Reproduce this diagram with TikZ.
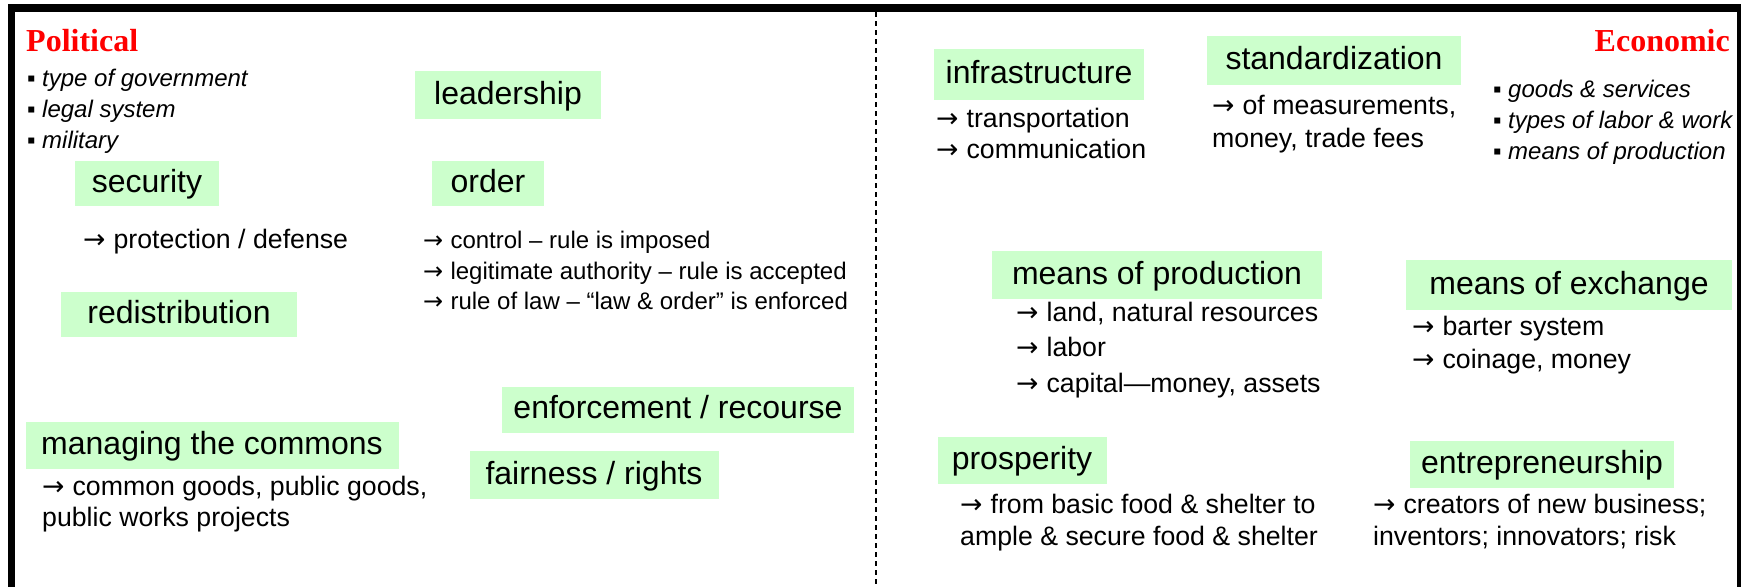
\documentclass[tikz,border=0pt]{standalone}
\usepackage{fontspec}
\setmainfont{Liberation Sans}
\newfontfamily\serifface{Liberation Serif}
\newfontfamily\arrowface{DejaVu Sans}
\definecolor{boxgreen}{HTML}{CCFFCC}
\definecolor{headred}{HTML}{FF0000}
\newcommand\rarr{{\arrowface →}\hspace{0.3em}}
\begin{document}
\begin{tikzpicture}[x=1pt,y=-1pt,
  box/.style={fill=boxgreen, inner sep=0pt, text height=24pt, text depth=6pt,
    font=\fontsize{32}{38}\selectfont},
  head/.style={inner sep=0pt, text=headred, font=\serifface\bfseries\fontsize{32}{38}\selectfont},
  sub/.style={anchor=base west, inner sep=0pt, font=\fontsize{26.7}{32}\selectfont},
  subs/.style={anchor=base west, inner sep=0pt, font=\fontsize{24}{30}\selectfont},
  bul/.style={anchor=base west, inner sep=0pt, font=\fontsize{24}{30}\selectfont},
  bult/.style={anchor=base west, inner sep=0pt, font=\itshape\fontsize{24}{30}\selectfont}]
\useasboundingbox (0,0) rectangle (1744,587);
\fill[white] (0,0) rectangle (1744,587);
% frame
\fill[black] (8,4) rectangle (1741,12);
\fill[black] (8,4) rectangle (15,587);
\fill[black] (1737,4) rectangle (1741,587);
\draw[line width=2pt, dash pattern=on 5pt off 4pt] (876,12) -- (876,587);

% headings
\node[head, anchor=base west] (pol) at (26,51) {Political};
\node[head, anchor=base east] (eco) at (1730,51) {Economic};

% political bullets
\node[bul] (pb1) at (27,86) {▪};
\node[bult] (pt1) at (42,86) {type of government};
\node[bul] (pb2) at (27,117) {▪};
\node[bult] (pt2) at (42,117) {legal system};
\node[bul] (pb3) at (27,148) {▪};
\node[bult] (pt3) at (42,148) {military};

% economic bullets
\node[bul] (eb1) at (1493,97) {▪};
\node[bult] (et1) at (1508,97) {goods \& services};
\node[bul] (eb2) at (1493,128) {▪};
\node[bult] (et2) at (1508,128) {types of labor \& work};
\node[bul] (eb3) at (1493,159) {▪};
\node[bult] (et3) at (1508,159) {means of production};

% political boxes
\node[box, minimum width=186pt, minimum height=48pt] (lead) at (508,95) {leadership};
\node[box, minimum width=144pt, minimum height=45pt] (sec) at (147,183.5) {security};
\node[box, minimum width=112pt, minimum height=45pt] (ord) at (488,183.5) {order};
\node[box, minimum width=236pt, minimum height=45pt] (redis) at (179,314.5) {redistribution};
\node[box, minimum width=352pt, minimum height=46pt] (enf) at (678,409.5) {enforcement / recourse};
\node[box, minimum width=373pt, minimum height=47pt] (man) at (212,445) {managing the commons};
\node[box, minimum width=249pt, minimum height=48pt] (fair) at (594,475) {fairness / rights};

% political sub items
\node[sub] (sec1) at (83,248) {\rarr protection / defense};
\node[subs] (ord1) at (423,248) {\rarr control – rule is imposed};
\node[subs] (ord2) at (423,279) {\rarr legitimate authority – rule is accepted};
\node[subs] (ord3) at (423,309) {\rarr rule of law – “law \& order” is enforced};
\node[sub] (man1) at (42,495) {\rarr common goods, public goods,};
\node[sub] (man2) at (42,526) {public works projects};

% economic boxes
\node[box, minimum width=210pt, minimum height=51pt] (infra) at (1039,74.5) {infrastructure};
\node[box, minimum width=254pt, minimum height=49pt] (std) at (1334,60.5) {standardization};
\node[box, minimum width=330pt, minimum height=48pt] (mprod) at (1157,275) {means of production};
\node[box, minimum width=326pt, minimum height=50pt] (mexch) at (1569,285) {means of exchange};
\node[box, minimum width=169pt, minimum height=47pt] (prosp) at (1022,460.5) {prosperity};
\node[box, minimum width=264pt, minimum height=47pt] (entre) at (1542,464.5) {entrepreneurship};

% economic sub items
\node[sub] (inf1) at (936,127) {\rarr transportation};
\node[sub] (inf2) at (936,158) {\rarr communication};
\node[sub] (std1) at (1212,114) {\rarr of measurements,};
\node[sub] (std2) at (1212,147) {money, trade fees};
\node[sub] (mp1) at (1016,321) {\rarr land, natural resources};
\node[sub] (mp2) at (1016,356) {\rarr labor};
\node[sub] (mp3) at (1016,392) {\rarr capital—money, assets};
\node[sub] (me1) at (1412,335) {\rarr barter system};
\node[sub] (me2) at (1412,368) {\rarr coinage, money};
\node[sub] (pr1) at (960,513) {\rarr from basic food \& shelter to};
\node[sub] (pr2) at (960,545) {ample \& secure food \& shelter};
\node[sub] (en1) at (1373,513) {\rarr creators of new business;};
\node[sub] (en2) at (1373,545) {inventors; innovators; risk};
\end{tikzpicture}
\end{document}
